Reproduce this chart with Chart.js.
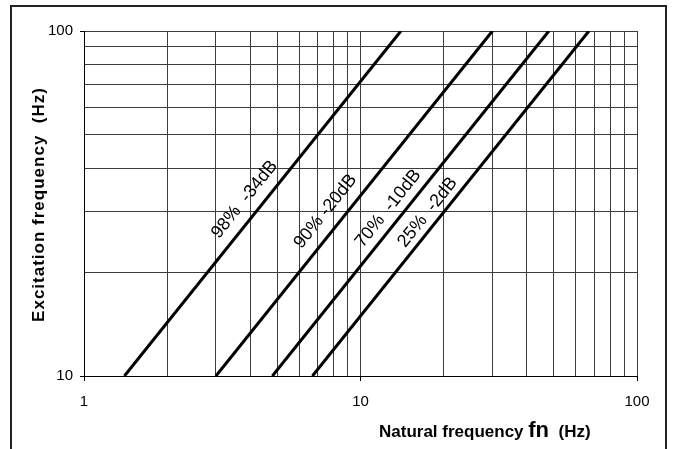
<!DOCTYPE html>
<html>
<head>
<meta charset="utf-8">
<script src="https://cdn.jsdelivr.net/npm/chart.js@4.4.1/dist/chart.umd.min.js"></script>
<style>
  html, body { margin: 0; padding: 0; background: #fff; }
</style>
</head>
<body>
<canvas id="chart" width="673" height="449"></canvas>
<script>
// each curve runs from 10 Hz to 100 Hz excitation, slope 1 on log-log
const curveNames = ['98%  -34dB', '90% -20dB', '70%  -10dB', '25%  -2dB']
const startFn = [1.4, 3.0, 4.8, 6.7]
const endFn = [14, 30, 48, 67]
const startExc = [10, 10, 10, 10]
const endExc = [100, 100, 100, 100]

// where the curve names sit, in data units
const labelFn = [3.81, 7.47, 12.6, 17.5]
const labelExc = [32.5, 30.0, 30.6, 29.8]

// grid lines, and the decades that get a label
const xGrid = [1, 2, 3, 4, 5, 6, 7, 8, 9, 10, 20, 30, 40, 50, 60, 70, 80, 90, 100]
const yGrid = [10, 20, 30, 40, 50, 60, 70, 80, 90, 100]
const xTickLabels = [1, 10, 100]
const yTickLabels = [10, 100]

const FONT = "'Liberation Sans', Arial, sans-serif"

function isLabelled(v, list){
    return list.some(t => Math.abs(t - v) < 1e-6)
}

const datasets = curveNames.map((name, i) => ({
    label: name,
    data: [{ x: startFn[i], y: startExc[i] }, { x: endFn[i], y: endExc[i] }],
    borderColor: '#000',
    borderWidth: 3,
    pointRadius: 0,
    tension: 0
}))

// frame round the picture (no bottom edge)
const framePlugin = {
    id: 'frame',
    beforeDraw(chart){
        const ctx = chart.ctx
        ctx.save()
        ctx.fillStyle = '#fff'
        ctx.fillRect(0, 0, chart.width, chart.height)
        ctx.strokeStyle = '#222'
        ctx.lineWidth = 2
        ctx.beginPath()
        ctx.moveTo(11, chart.height)
        ctx.lineTo(11, 6)
        ctx.lineTo(666, 6)
        ctx.lineTo(666, chart.height)
        ctx.stroke()
        ctx.restore()
    }
}

const textPlugin = {
    id: 'texts',
    afterDraw(chart){
        const ctx = chart.ctx
        const { x, y } = chart.scales
        const area = chart.chartArea
        ctx.save()
        ctx.fillStyle = '#000'

        // curve names, turned to follow their line
        curveNames.forEach((name, i) => {
            const dx = x.getPixelForValue(endFn[i]) - x.getPixelForValue(startFn[i])
            const dy = y.getPixelForValue(endExc[i]) - y.getPixelForValue(startExc[i])
            const angle = Math.atan2(dy, dx)
            ctx.save()
            ctx.translate(x.getPixelForValue(labelFn[i]), y.getPixelForValue(labelExc[i]))
            ctx.rotate(angle)
            ctx.font = '18px ' + FONT
            ctx.textAlign = 'center'
            ctx.textBaseline = 'middle'
            ctx.fillText(name, 0, 0)
            ctx.restore()
        })

        // y title
        ctx.save()
        ctx.translate(39, (area.top + area.bottom) / 2 + 1)
        ctx.rotate(-Math.PI / 2)
        ctx.font = 'bold 17px ' + FONT
        ctx.letterSpacing = '1px'
        ctx.textAlign = 'center'
        ctx.textBaseline = 'middle'
        ctx.fillText('Excitation frequency  (Hz)', 0, 0)
        ctx.restore()

        // x title, with a bigger "fn"
        let px = area.left + 295
        const base = area.bottom + 61
        ctx.textAlign = 'left'
        ctx.textBaseline = 'alphabetic'
        ctx.font = 'bold 17px ' + FONT
        ctx.fillText('Natural frequency ', px, base)
        px += ctx.measureText('Natural frequency ').width
        ctx.font = 'bold 22px ' + FONT
        ctx.fillText('fn', px, base)
        px += ctx.measureText('fn').width
        ctx.font = 'bold 17px ' + FONT
        ctx.fillText('  (Hz)', px, base)
        ctx.restore()
    }
}

const ctx = document.getElementById('chart')

new Chart(ctx, {
    type: 'line',
    data: { datasets },
    options: {
        responsive: false,
        animation: false,
        devicePixelRatio: 1,
        layout: { padding: { left: 0, right: 36, top: 31, bottom: 0 } },
        plugins: {
            legend: { display: false },
            tooltip: { enabled: false }
        },
        scales: {
            x: {
                type: 'logarithmic',
                min: 1,
                max: 100,
                afterFit(scale){ scale.height = 73 },
                afterBuildTicks(scale){ scale.ticks = xGrid.map(v => ({ value: v })) },
                grid: {
                    color: '#3c3c3c',
                    lineWidth: 1,
                    tickLength: 5,
                    tickColor: c => isLabelled(c.tick.value, xTickLabels) ? '#000' : 'rgba(0,0,0,0)'
                },
                border: { display: true, color: '#000', width: 1 },
                ticks: {
                    autoSkip: false,
                    maxRotation: 0,
                    padding: 12,
                    color: '#000',
                    font: { family: FONT, size: 15 },
                    callback: value => isLabelled(value, xTickLabels) ? String(value) : ''
                }
            },
            y: {
                type: 'logarithmic',
                min: 10,
                max: 100,
                afterFit(scale){ scale.width = 84 },
                afterBuildTicks(scale){ scale.ticks = yGrid.map(v => ({ value: v })) },
                grid: {
                    color: '#3c3c3c',
                    lineWidth: 1,
                    tickLength: 4,
                    tickColor: c => isLabelled(c.tick.value, yTickLabels) ? '#000' : 'rgba(0,0,0,0)'
                },
                border: { display: true, color: '#000', width: 1 },
                ticks: {
                    autoSkip: false,
                    padding: 7,
                    color: '#000',
                    font: { family: FONT, size: 15 },
                    callback: value => isLabelled(value, yTickLabels) ? String(value) : ''
                }
            }
        }
    },
    plugins: [framePlugin, textPlugin]
})
</script>
</body>
</html>
